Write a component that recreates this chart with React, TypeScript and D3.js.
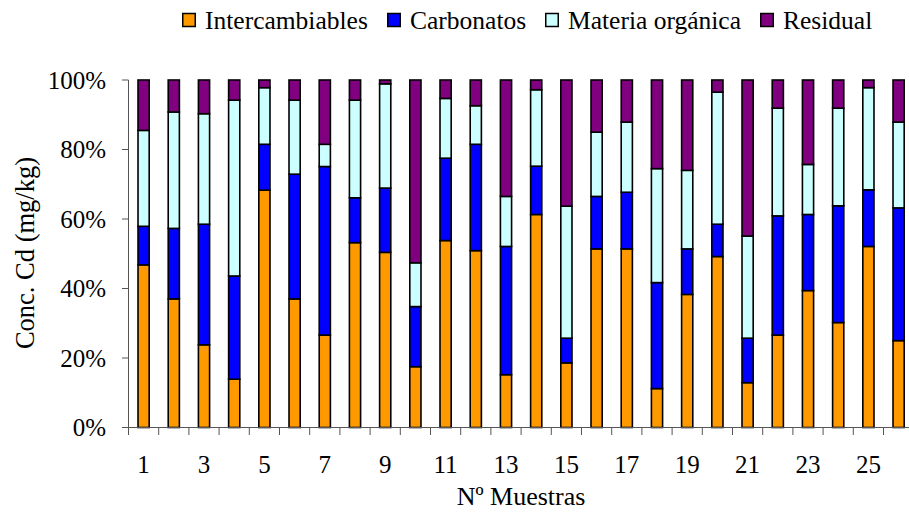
import React from "react";
import * as d3 from "d3";

const samples = Array.from({ length: 26 }, (_, i) => String(i + 1));
const seriesNames = ["Intercambiables", "Carbonatos", "Materia orgánica", "Residual"];
const seriesColors = ["#FF9900", "#0000FF", "#CCFFFF", "#800080"];

const intercambiables = [46.8, 37.0, 23.8, 13.9, 68.3, 37.0, 26.6, 53.2, 50.4, 17.5, 53.8, 50.9, 15.2, 61.3, 18.6, 51.4, 51.4, 11.2, 38.3, 49.2, 12.9, 26.6, 39.4, 30.2, 52.1, 25.0];
const carbonatos = [11.1, 20.3, 34.7, 29.7, 13.2, 35.9, 48.5, 12.9, 18.5, 17.3, 23.7, 30.6, 36.9, 13.9, 7.1, 15.1, 16.3, 30.5, 13.1, 9.3, 12.8, 34.3, 21.9, 33.6, 16.3, 38.2];
const materiaOrganica = [27.6, 33.5, 31.8, 50.6, 16.3, 21.3, 6.4, 28.1, 30.0, 12.6, 17.2, 11.1, 14.4, 22.0, 38.0, 18.5, 20.2, 32.8, 22.6, 38.0, 29.4, 31.0, 14.4, 28.1, 29.4, 24.7];
const residual = [14.5, 9.2, 9.7, 5.8, 2.2, 5.8, 18.5, 5.8, 1.1, 52.6, 5.3, 7.4, 33.5, 2.8, 36.3, 15.0, 12.1, 25.5, 26.0, 3.5, 44.9, 8.1, 24.3, 8.1, 2.2, 12.1];

const yTicks = [0, 0.2, 0.4, 0.6, 0.8, 1.0];
const xTickLabels = samples.filter((_, i) => i % 2 === 0);

const FONT = "'Liberation Serif', 'Times New Roman', serif";

export default function App() {
  const W = 909, H = 512;
  const x = d3.scaleBand<string>().domain(samples).range([128.5, 913.7]).padding(0);
  const y = d3.scaleLinear().domain([0, 1]).range([427.5, 80]);
  const barW = x.bandwidth() * 0.37;

  const rows = samples.map((s, i) => {
    const tot = intercambiables[i] + carbonatos[i] + materiaOrganica[i] + residual[i];
    return {
      s,
      [seriesNames[0]]: intercambiables[i] / tot,
      [seriesNames[1]]: carbonatos[i] / tot,
      [seriesNames[2]]: materiaOrganica[i] / tot,
      [seriesNames[3]]: residual[i] / tot,
    } as any;
  });
  const stacked = d3.stack<any>().keys(seriesNames)(rows);

  const legendX = [182, 387, 545, 760];
  const axisColor = "#555";

  return (
    <div style={{ position: "fixed", left: 0, top: 0, width: W, height: H, background: "#fff" }}>
      <svg width={W} height={H} style={{ display: "block" }} fontFamily={FONT}>
        <rect width={W} height={H} fill="#fff" />
        {/* legend */}
        {seriesNames.map((n, i) => (
          <g key={n}>
            <rect x={legendX[i] + 0.75} y={13.5} width={12.5} height={13} fill={seriesColors[i]} stroke="#000" strokeWidth={1.5} />
            <text x={legendX[i] + 23} y={28.5} fontSize={25.5} fill="#000">{n}</text>
          </g>
        ))}
        {/* bars */}
        {stacked.map((layer, li) => (
          <g key={layer.key}>
            {layer.map((d, i) => {
              const cx = (x(samples[i]) as number) + x.bandwidth() / 2;
              return (
                <rect
                  key={i}
                  x={cx - barW / 2}
                  y={y(d[1])}
                  width={barW}
                  height={Math.max(0, y(d[0]) - y(d[1]))}
                  fill={seriesColors[li]}
                  stroke="#000"
                  strokeWidth={1.6}
                />
              );
            })}
          </g>
        ))}
        {/* y axis */}
        <line x1={128.5} x2={128.5} y1={80} y2={427.5} stroke={axisColor} strokeWidth={1} />
        {yTicks.map((t) => (
          <g key={t}>
            <line x1={122} x2={128.5} y1={y(t)} y2={y(t)} stroke={axisColor} strokeWidth={1} />
            <text x={106} y={y(t)} dy="0.35em" textAnchor="end" fontSize={25} fill="#000">
              {d3.format(".0%")(t)}
            </text>
          </g>
        ))}
        {/* x axis */}
        <line x1={128.5} x2={913.7} y1={427.5} y2={427.5} stroke={axisColor} strokeWidth={1} />
        {samples.map((s) => (
          <line key={s} x1={x(s) as number} x2={x(s) as number} y1={427.5} y2={435} stroke={axisColor} strokeWidth={1} />
        ))}
        {xTickLabels.map((s) => (
          <text key={s} x={(x(s) as number) + x.bandwidth() / 2} y={473} textAnchor="middle" fontSize={25} fill="#000">
            {s}
          </text>
        ))}
        <text x={521} y={505} textAnchor="middle" fontSize={26} fill="#000">Nº Muestras</text>
        <text transform="translate(34,253) rotate(-90)" textAnchor="middle" fontSize={26.5} fill="#000">Conc. Cd (mg/kg)</text>
      </svg>
    </div>
  );
}
